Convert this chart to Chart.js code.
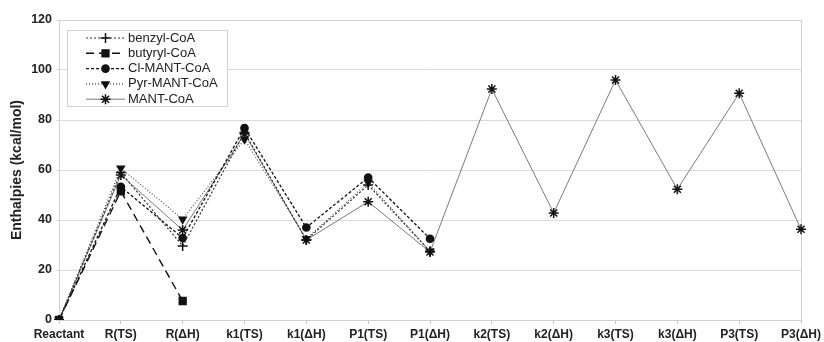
<!DOCTYPE html>
<html>
<head>
<meta charset="utf-8">
<script src="https://cdn.jsdelivr.net/npm/chart.js@4.4.0/dist/chart.umd.min.js"></script>
<style>
  html, body { margin: 0; padding: 0; background: #fff; }
  #wrap { width: 824px; height: 342px; }
</style>
</head>
<body>
<div id="wrap"><canvas id="myChart" width="824" height="342"></canvas></div>
<script>
// steps along the reaction path
var labels = ['Reactant', 'R(TS)', 'R(ΔH)', 'k1(TS)', 'k1(ΔH)', 'P1(TS)', 'P1(ΔH)',
  'k2(TS)', 'k2(ΔH)', 'k3(TS)', 'k3(ΔH)', 'P3(TS)', 'P3(ΔH)'];

// enthalpies, kcal/mol
var benzyl = [0, 59, 29.6, 75, 32, 54, 27.5];
var butyryl = [0, 51.5, 7.6];
var clMant = [0, 53.3, 32.8, 76.8, 37, 57, 32.5];
var pyrMant = [0, 60.7, 40.3, 72.3, 32.5, 55, 27.5];
var mant = [0, 58, 36, 74.5, 32, 47.3, 27.2, 92.4, 42.8, 96, 52.3, 90.7, 36.3];

var yTicks = [0, 20, 40, 60, 80, 100, 120];

function series(label, data, color, dash, width, style, rot, radius) {
  return {
    label: label,
    data: data,
    borderColor: color,
    borderDash: dash,
    borderWidth: width,
    pointStyle: style,
    rotation: rot,
    pointRadius: radius,
    pointBorderWidth: 1.5,
    pointBackgroundColor: '#111',
    pointBorderColor: '#111',
    fill: false,
    tension: 0,
    spanGaps: false
  };
}

var datasets = [
  series('benzyl-CoA', benzyl, '#333', [2, 2], 1.2, 'cross', 0, 5),
  series('butyryl-CoA', butyryl, '#111', [8, 5], 1.4, 'rect', 0, 4.8),
  series('Cl-MANT-CoA', clMant, '#111', [3, 2], 1.3, 'circle', 0, 3.6),
  series('Pyr-MANT-CoA', pyrMant, '#444', [1, 2], 1.1, 'triangle', 180, 4),
  series('MANT-CoA', mant, '#7a7a7a', [], 1, 'star', 0, 5)
];

// plot frame + boxed legend inside the plot
var frameAndLegend = {
  id: 'frameAndLegend',
  beforeDatasetsDraw: function (chart) {
    var c = chart.ctx, a = chart.chartArea;
    c.save();
    c.strokeStyle = '#d0d0d0';
    c.lineWidth = 1;
    c.strokeRect(a.left + 0.5, a.top + 0.5, a.right - a.left, a.bottom - a.top);
    c.restore();
  },
  afterDraw: function (chart) {
    var c = chart.ctx;
    c.save();
    c.fillStyle = '#fff';
    c.fillRect(67, 30, 161, 77);
    c.strokeStyle = '#d0d0d0';
    c.lineWidth = 1;
    c.strokeRect(67.5, 30.5, 160, 76);
    chart.data.datasets.forEach(function (ds, i) {
      var y = 38 + i * 15.3;
      c.strokeStyle = ds.borderColor;
      c.lineWidth = ds.borderWidth;
      c.setLineDash(ds.borderDash);
      c.beginPath();
      c.moveTo(86, y);
      c.lineTo(125, y);
      c.stroke();
      c.setLineDash([]);
      c.fillStyle = '#111';
      c.strokeStyle = '#111';
      c.lineWidth = 1.5;
      Chart.helpers.drawPoint(c, {
        pointStyle: ds.pointStyle, rotation: ds.rotation,
        radius: ds.pointRadius, borderWidth: 1.5
      }, 105.5, y);
      c.fillStyle = '#222';
      c.font = '13px "Liberation Sans", Arial, sans-serif';
      c.textBaseline = 'middle';
      c.textAlign = 'left';
      c.fillText(ds.label, 128, y);
    });
    c.restore();
  }
};

var ctx = document.getElementById('myChart').getContext('2d');
var myChart = new Chart(ctx, {
  type: 'line',
  data: { labels: labels, datasets: datasets },
  plugins: [frameAndLegend],
  options: {
    responsive: false,
    animation: false,
    layout: { padding: { left: 0, top: 20, right: 21, bottom: 0 } },
    plugins: { legend: { display: false }, tooltip: { enabled: false } },
    scales: {
      x: {
        offset: false,
        grid: { drawOnChartArea: false, drawTicks: true, tickLength: 4, color: '#c8c8c8' },
        border: { color: '#c8c8c8' },
        ticks: {
          color: '#222', padding: 3, maxRotation: 0, autoSkip: false,
          font: { family: '"Liberation Sans", Arial, sans-serif', size: 12, weight: 'bold' }
        },
        afterFit: function (s) { s.height = 22; }
      },
      y: {
        min: 0, max: 120,
        afterBuildTicks: function (s) { s.ticks = yTicks.map(function (v) { return { value: v }; }); },
        grid: { color: '#dadada', tickLength: 3 },
        border: { color: '#c8c8c8' },
        ticks: {
          color: '#222', padding: 4,
          font: { family: '"Liberation Sans", Arial, sans-serif', size: 12.5, weight: 'bold' }
        },
        title: {
          display: true, text: 'Enthalpies (kcal/mol)', color: '#222',
          padding: { top: 9, bottom: 0 },
          font: { family: '"Liberation Sans", Arial, sans-serif', size: 14, weight: 'bold' }
        },
        afterFit: function (s) { s.width = 59; }
      }
    }
  }
});
</script>
</body>
</html>
